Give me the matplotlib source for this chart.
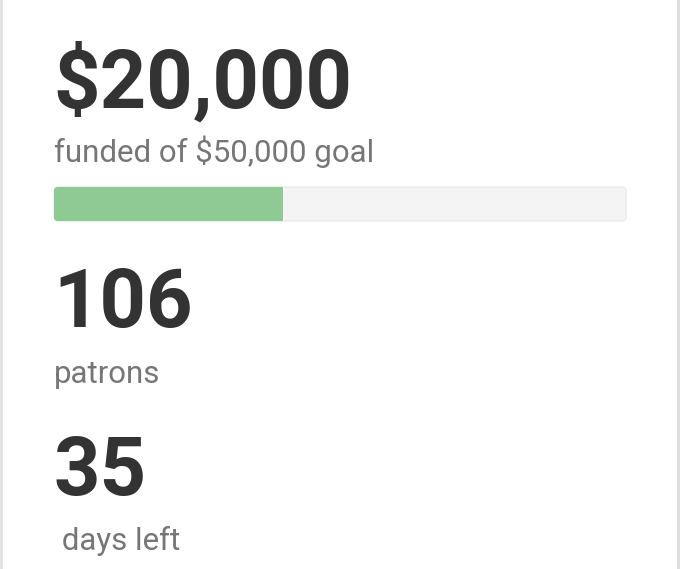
import matplotlib
matplotlib.use("Agg")
import matplotlib.pyplot as plt
from matplotlib.patches import FancyBboxPatch

# campaign numbers
raised = 20000
goal = 50000
patrons = 106
days_left = 35

labels = ["funded of ${:,} goal".format(goal), "patrons", " days left"]
big_values = ["${:,}".format(raised), str(patrons), str(days_left)]

W, H = 680, 569
fig = plt.figure(figsize=(W / 100, H / 100), dpi=100)
fig.patch.set_facecolor("white")

# full-figure axes in pixel coordinates (y down)
ax = fig.add_axes([0, 0, 1, 1])
ax.set_xlim(0, W)
ax.set_ylim(H, 0)
ax.axis("off")

# card borders
ax.axvline(1, color="#e0e0e0", lw=2)
ax.axvline(678, color="#dcdcdc", lw=2)

big_font = dict(family="Roboto", weight="bold", size=58.5, color="#333333")
small_font = dict(family="Roboto", size=22.5, color="#767676")

big_y = [108, 327, 495]
small_y = [162, 383, 550]
for val, lab, by, sy in zip(big_values, labels, big_y, small_y):
    ax.text(53.5, by, val, va="baseline", ha="left", **big_font)
    ax.text(54, sy, lab, va="baseline", ha="left", **small_font)

# progress bar
x0, x1 = 54, 626
y0, y1 = 187, 221
bax = fig.add_axes([x0 / W, 1 - y1 / H, (x1 - x0) / W, (y1 - y0) / H])
bax.set_xlim(0, goal)
bax.set_ylim(0, 1)
bax.axis("off")

px_x = goal / (x1 - x0)
px_y = 1 / (y1 - y0)
r = 4 * px_x
asp = px_y / px_x

track = FancyBboxPatch((0, 0), goal, 1,
                       boxstyle="round,pad=0,rounding_size={}".format(r),
                       mutation_aspect=asp, facecolor="#f4f4f4",
                       edgecolor="#ebebeb", lw=1, clip_on=False)
bax.add_patch(track)
fill = FancyBboxPatch((0, 0), raised, 1,
                      boxstyle="round,pad=0,rounding_size={}".format(r),
                      mutation_aspect=asp, facecolor="#8fc994",
                      edgecolor="none", clip_on=False)
bax.add_patch(fill)
# square off the right end of the green part
bax.barh(0.5, r * 1.5, left=raised - r * 1.5, height=1, color="#8fc994")

fig.savefig("out.png", dpi=100, facecolor="white")
